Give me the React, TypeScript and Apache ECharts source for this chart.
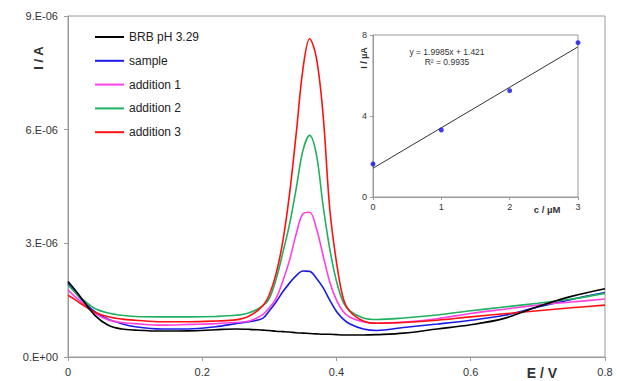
import React, { useEffect, useRef } from "react";
import * as echarts from "echarts";

// Potential E / V (shared by all voltammograms)
const potentials = [0, 0.01, 0.02, 0.04, 0.06, 0.08, 0.1, 0.14, 0.18, 0.22, 0.25, 0.27, 0.29, 0.3, 0.31, 0.32, 0.33, 0.34, 0.35, 0.36, 0.37, 0.38, 0.39, 0.4, 0.41, 0.42, 0.44, 0.46, 0.5, 0.55, 0.6, 0.65, 0.7, 0.75, 0.8];

// Currents in units of 1e-6 A
const brb = [1.99, 1.78, 1.55, 1.1, 0.84, 0.74, 0.71, 0.685, 0.69, 0.72, 0.74, 0.73, 0.71, 0.7, 0.68, 0.67, 0.66, 0.64, 0.63, 0.62, 0.61, 0.6, 0.6, 0.59, 0.58, 0.58, 0.58, 0.59, 0.63, 0.74, 0.85, 1.02, 1.33, 1.6, 1.8];
const sample = [1.94, 1.72, 1.52, 1.2, 1.0, 0.88, 0.8, 0.74, 0.74, 0.8, 0.88, 0.93, 1.02, 1.22, 1.45, 1.72, 1.95, 2.15, 2.27, 2.26, 2.08, 1.83, 1.5, 1.2, 1.0, 0.87, 0.74, 0.7, 0.78, 0.87, 0.97, 1.1, 1.32, 1.52, 1.7];
const addition1 = [1.77, 1.6, 1.45, 1.15, 0.98, 0.91, 0.88, 0.84, 0.86, 0.88, 0.91, 0.95, 1.12, 1.3, 1.55, 2.0, 2.55, 3.25, 3.78, 3.82, 3.4, 2.68, 1.98, 1.5, 1.2, 1.05, 0.93, 0.89, 0.92, 1.01, 1.15, 1.26, 1.37, 1.45, 1.53];
const addition2 = [1.9, 1.72, 1.55, 1.28, 1.16, 1.1, 1.07, 1.06, 1.06, 1.07, 1.1, 1.17, 1.35, 1.55, 2.05, 2.75, 3.5, 4.45, 5.45, 5.85, 5.35, 4.0, 2.85, 2.0, 1.45, 1.22, 1.03, 0.99, 1.03, 1.11, 1.22, 1.32, 1.42, 1.53, 1.68];
const addition3 = [1.63, 1.52, 1.4, 1.18, 1.06, 1.0, 0.97, 0.93, 0.93, 0.95, 0.98, 1.08, 1.35, 1.65, 2.2, 3.05, 4.3, 5.9, 7.6, 8.4, 7.9, 6.4, 3.9, 2.5, 1.55, 1.2, 0.95, 0.89, 0.91, 0.97, 1.06, 1.14, 1.22, 1.3, 1.37];

const seriesNames = ["BRB pH 3.29", "sample", "addition 1", "addition 2", "addition 3"];
const seriesColors = ["#000000", "#1a1ae6", "#ff40e0", "#1fb060", "#ff1010"];
const yTickLabels = ["0.E+00", "3.E-06", "6.E-06", "9.E-06"];

// Inset: calibration
const concentrations = [0, 1, 2, 3];
const peakCurrents = [1.63, 3.31, 5.25, 7.62];
const trendLine = [[0, 1.421], [3, 7.4165]];
const equationText = "y = 1.9985x + 1.421";
const r2Text = "R\u00b2 = 0.9935";

const FONT = "'Liberation Sans', Arial, sans-serif";

export default function App() {
  const ref = useRef<HTMLDivElement>(null);
  useEffect(() => {
    document.body.style.margin = "0";
    const chart = echarts.init(ref.current!, null, { renderer: "svg" });
    const allSeries = [brb, sample, addition1, addition2, addition3];
    const lineSeries = allSeries.map((ys, i) => ({
      name: seriesNames[i],
      type: "line",
      xAxisIndex: 0,
      yAxisIndex: 0,
      data: potentials.map((e, k) => [e, ys[k]]),
      smooth: 0.35,
      showSymbol: false,
      lineStyle: { color: seriesColors[i], width: 1.6 },
      itemStyle: { color: seriesColors[i] },
      z: i === 0 ? 7 : 2 + i,
    }));
    const axisColor = "#9a9a9a";
    chart.setOption({
      animation: false,
      backgroundColor: "#ffffff",
      textStyle: { fontFamily: FONT },
      grid: [
        { left: 68, top: 16, width: 537, height: 341, show: true, borderColor: axisColor, borderWidth: 1 },
        { left: 373, top: 35, width: 205, height: 162, show: true, borderColor: axisColor, borderWidth: 1, backgroundColor: "#ffffff" },
      ],
      legend: {
        orient: "vertical",
        left: 90,
        top: 25,
        itemWidth: 29,
        itemHeight: 2,
        itemGap: 9.8,
        icon: "rect",
        data: seriesNames,
        textStyle: { fontSize: 12, color: "#222", fontFamily: FONT, lineHeight: 14 },
      },
      xAxis: [
        {
          type: "value",
          gridIndex: 0,
          min: 0,
          max: 0.8,
          interval: 0.2,
          axisLine: { lineStyle: { color: axisColor } },
          axisTick: { show: true, length: 4, lineStyle: { color: axisColor } },
          axisLabel: { color: "#333", fontSize: 11, margin: 9, fontFamily: FONT },
          splitLine: { show: false },
        },
        {
          type: "value",
          gridIndex: 1,
          min: 0,
          max: 3,
          interval: 1,
          axisLine: { lineStyle: { color: axisColor } },
          axisTick: { show: true, length: 3, lineStyle: { color: axisColor } },
          axisLabel: { color: "#333", fontSize: 9, margin: 5, fontFamily: FONT },
          splitLine: { show: false },
        },
      ],
      yAxis: [
        {
          type: "value",
          gridIndex: 0,
          min: 0,
          max: 9,
          interval: 3,
          axisLine: { show: true, lineStyle: { color: axisColor } },
          axisTick: { show: true, length: 4, lineStyle: { color: axisColor } },
          axisLabel: {
            color: "#333",
            fontSize: 11,
            margin: 10,
            fontFamily: FONT,
            formatter: (v: number) => yTickLabels[Math.round(v / 3)] ?? "",
          },
          splitLine: { show: false },
        },
        {
          type: "value",
          gridIndex: 1,
          min: 0,
          max: 8,
          interval: 4,
          axisLine: { show: true, lineStyle: { color: axisColor } },
          axisTick: { show: true, length: 3, lineStyle: { color: axisColor } },
          axisLabel: { color: "#333", fontSize: 9, margin: 6, fontFamily: FONT },
          splitLine: { show: false },
        },
      ],
      series: [
        ...lineSeries,
        {
          name: "trend",
          type: "line",
          xAxisIndex: 1,
          yAxisIndex: 1,
          data: trendLine,
          showSymbol: false,
          lineStyle: { color: "#333", width: 1 },
          z: 3,
        },
        {
          name: "calibration",
          type: "scatter",
          xAxisIndex: 1,
          yAxisIndex: 1,
          data: concentrations.map((c, i) => [c, peakCurrents[i]]),
          symbol: "circle",
          symbolSize: 5,
          itemStyle: { color: "#1010ee" },
          z: 4,
        },
      ],
      graphic: [
        {
          type: "text",
          x: 38,
          y: 58,
          rotation: Math.PI / 2,
          style: { text: "I / A", fill: "#333", font: `bold 13px ${FONT}`, align: "center", verticalAlign: "middle" },
        },
        {
          type: "text",
          x: 542,
          y: 373,
          style: { text: "E / V", fill: "#333", font: `bold 14px ${FONT}`, align: "center", verticalAlign: "middle" },
        },
        {
          type: "text",
          x: 447,
          y: 52,
          style: { text: equationText, fill: "#333", font: `8.5px ${FONT}`, align: "center", verticalAlign: "middle" },
        },
        {
          type: "text",
          x: 447,
          y: 62,
          style: { text: r2Text, fill: "#333", font: `8.5px ${FONT}`, align: "center", verticalAlign: "middle" },
        },
        {
          type: "text",
          x: 364,
          y: 58,
          rotation: Math.PI / 2,
          style: { text: "I / \u00b5A", fill: "#333", font: `bold 9px ${FONT}`, align: "center", verticalAlign: "middle" },
        },
        {
          type: "text",
          x: 547,
          y: 209,
          style: { text: "c / \u00b5M", fill: "#333", font: `bold 9.5px ${FONT}`, align: "center", verticalAlign: "middle" },
        },
      ],
    });
    return () => chart.dispose();
  }, []);
  return <div ref={ref} style={{ width: 617, height: 381 }} />;
}
